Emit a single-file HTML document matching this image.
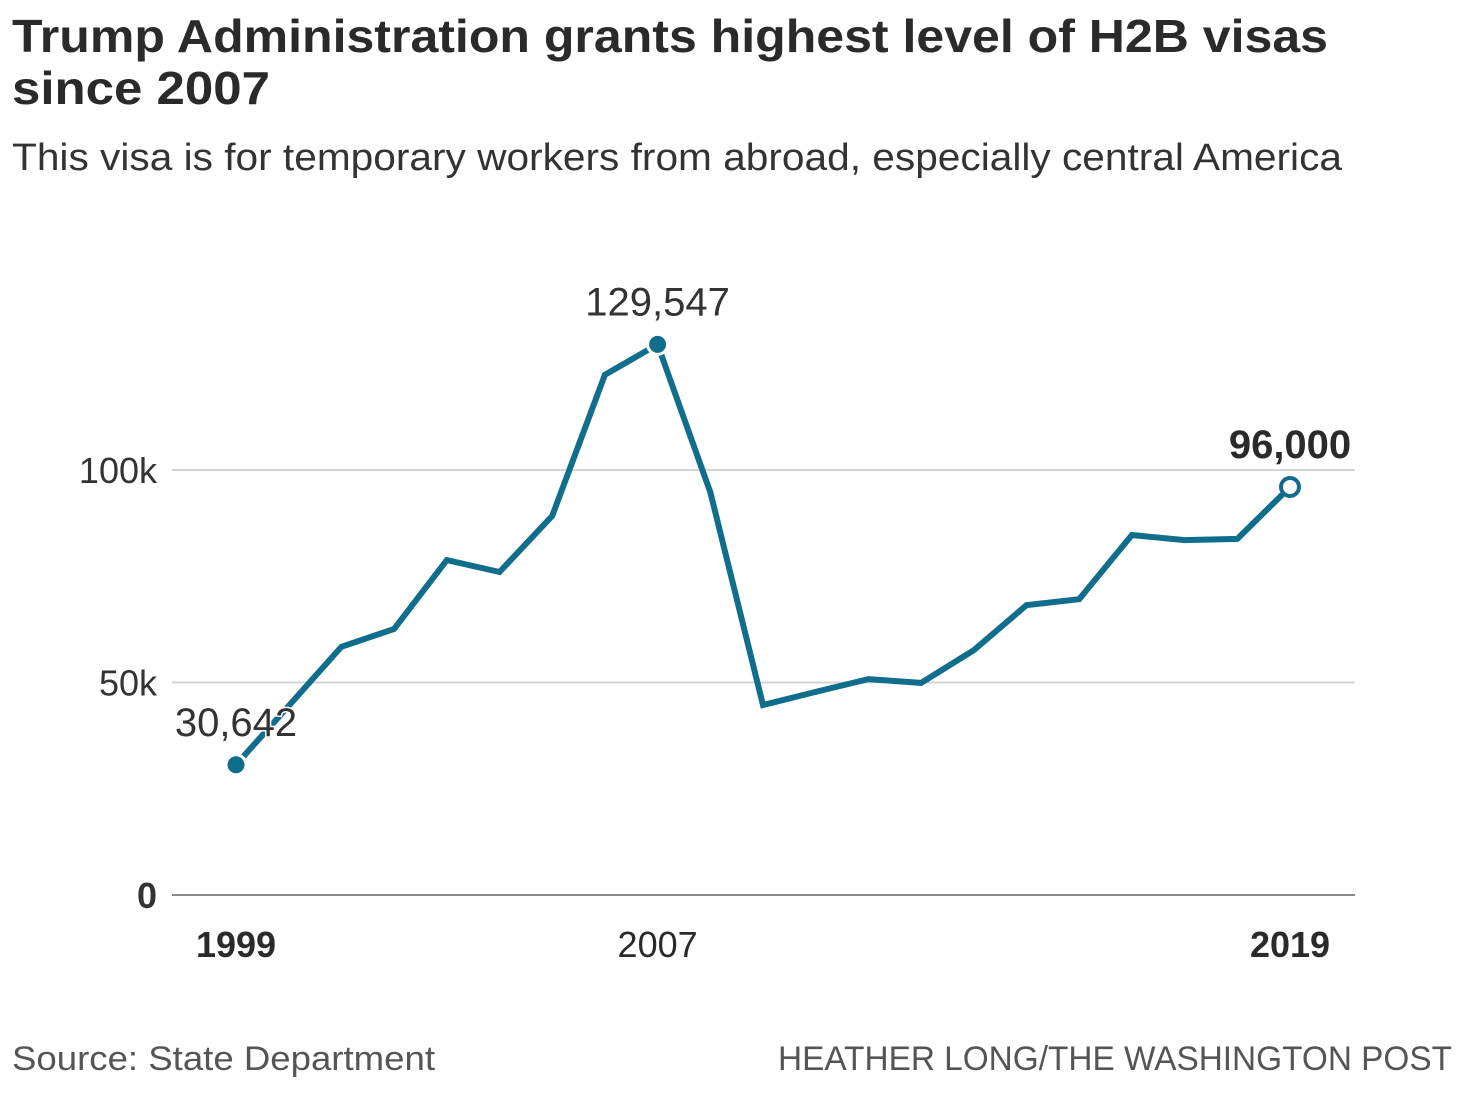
<!DOCTYPE html>
<html><head><meta charset="utf-8"><style>
body{margin:0;background:#fff;width:1473px;height:1090px;overflow:hidden;font-family:"Liberation Sans",sans-serif;color:#222}
</style></head><body>
<svg width="1473" height="1090" xmlns="http://www.w3.org/2000/svg" font-family="Liberation Sans, sans-serif">
<text x="12" y="52" font-size="46" font-weight="bold" fill="#2a2a2a" textLength="1316" lengthAdjust="spacingAndGlyphs">Trump Administration grants highest level of H2B visas</text>
<text x="12" y="104" font-size="46" font-weight="bold" fill="#2a2a2a" textLength="258" lengthAdjust="spacingAndGlyphs">since 2007</text>
<text x="12" y="170" font-size="38" fill="#333" textLength="1330" lengthAdjust="spacingAndGlyphs">This visa is for temporary workers from abroad, especially central America</text>
<g id="grid"></g>
<g id="plot"></g>
<text x="12" y="1070" font-size="34" fill="#555" textLength="423" lengthAdjust="spacingAndGlyphs">Source: State Department</text>
<text x="778" y="1070" font-size="34" fill="#555" textLength="674" lengthAdjust="spacingAndGlyphs">HEATHER LONG/THE WASHINGTON POST</text>
</svg>
<script>
const years=[1999,2000,2001,2002,2003,2004,2005,2006,2007,2008,2009,2010,2011,2012,2013,2014,2015,2016,2017,2018,2019];
const visas=[30642,44500,58400,62600,78800,76000,89200,122400,129547,94800,44700,47800,50800,49900,57600,68200,69600,84700,83500,83800,96000];
const yTicks=[0,50000,100000];
const yTickLabels=["0","50k","100k"];
const xTicks=[1999,2007,2019];
const xTickLabels=["1999","2007","2019"];
const x=v=>236+(v-1999)*(1290-236)/20;
const y=v=>895-v*(425/100000);
const NS="http://www.w3.org/2000/svg";
function mk(tag,attrs,parent,txt){const e=document.createElementNS(NS,tag);for(const k in attrs)e.setAttribute(k,attrs[k]);if(txt!==undefined)e.textContent=txt;parent.appendChild(e);return e;}
const grid=document.getElementById('grid'),plot=document.getElementById('plot');
yTicks.forEach((t,i)=>{
  const l=mk('line',{x1:172,x2:1355,y1:y(t),y2:y(t),stroke:t===0?'#888':'#d4d4d4','stroke-width':2},grid);
  
  
  const tx=mk('text',{x:157,y:y(t)+13,'font-size':36,'text-anchor':'end',fill:'#333','font-weight':t===0?'bold':'normal'},grid,yTickLabels[i]);
  
  
});
xTicks.forEach((t,i)=>{
  const tx=mk('text',{x:x(t),y:957,'font-size':36,'text-anchor':'middle',fill:'#2a2a2a','font-weight':i===1?'normal':'bold'},grid,xTickLabels[i]);
  
  
});
const p=mk('polyline',{points:years.map((yr,i)=>x(yr)+','+y(visas[i])).join(' '),fill:'none',stroke:'#106e8c','stroke-width':6,'stroke-linejoin':'miter'},plot);


const n=years.length-1;
const fmt=v=>v.toLocaleString('en-US');
const imax=visas.indexOf(Math.max(...visas));
[[0,'#106e8c',null],[imax,'#106e8c',null],[n,'#fff','#106e8c']].forEach(([i,f,s])=>{
  const c=mk('circle',{cx:x(years[i]),cy:y(visas[i]),r:s?9:10,fill:f,stroke:s||'#fff','stroke-width':s?4:3},plot);
  
  
});
const l1=mk('text',{x:x(years[0]),y:y(visas[0])-29,'font-size':40,'text-anchor':'middle',fill:'#333',stroke:'#fff','stroke-width':3,'paint-order':'stroke'},plot,fmt(visas[0]));


const l2=mk('text',{x:x(years[imax]),y:y(visas[imax])-29,'font-size':40,'text-anchor':'middle',fill:'#333'},plot,fmt(visas[imax]));


const l3=mk('text',{x:x(years[n]),y:y(visas[n])-29,'font-size':40,'font-weight':'bold','text-anchor':'middle',fill:'#2a2a2a'},plot,fmt(visas[n]));


</script>
</body></html>
